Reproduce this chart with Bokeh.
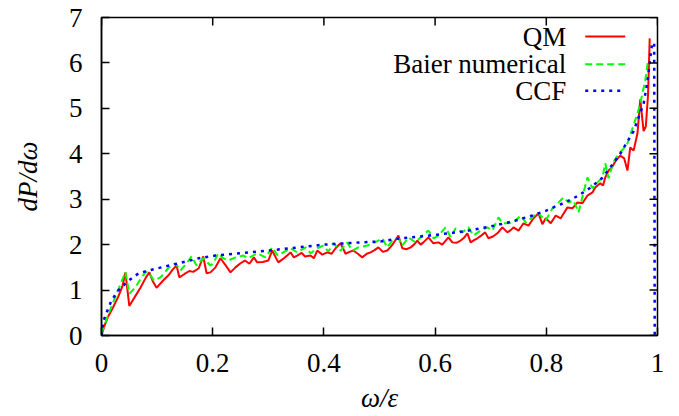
from bokeh.plotting import figure
from bokeh.models import Range1d, FixedTicker, Label
from bokeh.embed import file_html
from bokeh.resources import INLINE

# ---- data ----
qm_x = [0, 0.005, 0.012, 0.02, 0.03, 0.038, 0.043, 0.05, 0.06, 0.07, 0.08, 0.086, 0.092, 0.099,
        0.11, 0.12, 0.128, 0.135, 0.14, 0.15, 0.158, 0.165, 0.175, 0.183, 0.189, 0.196, 0.205,
        0.214, 0.223, 0.232, 0.241, 0.25, 0.258, 0.266, 0.274, 0.28, 0.29, 0.3, 0.307, 0.318,
        0.326, 0.334, 0.34, 0.346, 0.352, 0.36, 0.366, 0.376, 0.382, 0.388, 0.397, 0.406, 0.414,
        0.421, 0.43, 0.439, 0.446, 0.453, 0.461, 0.469, 0.477, 0.484, 0.491, 0.498, 0.506, 0.514,
        0.52, 0.525, 0.534, 0.541, 0.549, 0.556, 0.562, 0.568, 0.574, 0.579, 0.588, 0.597, 0.606,
        0.613, 0.619, 0.624, 0.631, 0.638, 0.646, 0.652, 0.658, 0.664, 0.67, 0.676, 0.683, 0.69,
        0.696, 0.704, 0.712, 0.721, 0.73, 0.736, 0.741, 0.75, 0.759, 0.768, 0.777, 0.786, 0.793,
        0.799, 0.808, 0.817, 0.826, 0.832, 0.838, 0.847, 0.856, 0.865, 0.874, 0.883, 0.888, 0.897,
        0.902, 0.906, 0.912, 0.918, 0.925, 0.933, 0.94, 0.946, 0.951, 0.957, 0.964, 0.969, 0.975,
        0.979, 0.983, 0.986]
qm_y = [0, 0.2, 0.42, 0.6, 0.85, 1.1, 1.39, 0.65, 0.85, 1.05, 1.28, 1.39, 1.2, 1.05,
        1.2, 1.32, 1.45, 1.54, 1.28, 1.36, 1.42, 1.4, 1.48, 1.74, 1.37, 1.39, 1.5,
        1.7, 1.55, 1.39, 1.5, 1.59, 1.65, 1.58, 1.72, 1.61, 1.62, 1.65, 1.87, 1.61,
        1.68, 1.76, 1.83, 1.72, 1.76, 1.82, 1.74, 1.76, 1.7, 1.87, 1.78, 1.83, 1.8,
        1.92, 2.03, 1.8, 1.84, 1.87, 1.8, 1.72, 1.8, 1.83, 1.88, 1.94, 1.84, 1.87,
        1.95, 2.03, 2.2, 1.92, 1.9, 1.94, 2.0, 2.09, 2.0, 2.05, 2.16, 2.03, 2.05,
        2.0, 2.09, 2.16, 2.05, 2.04, 2.09, 2.15, 2.25, 2.05, 2.1, 2.14, 2.2, 2.27,
        2.14, 2.18, 2.25, 2.38, 2.27, 2.32, 2.38, 2.31, 2.47, 2.42, 2.58, 2.69, 2.45,
        2.58, 2.47, 2.64, 2.58, 2.7, 2.82, 2.8, 2.93, 2.91, 3.08, 3.15, 3.26, 3.35,
        3.3, 3.48, 3.63, 3.7, 3.85, 3.96, 3.9, 3.63, 4.14, 4.07, 4.45, 5.2, 4.5,
        4.6, 5.3, 6.54]

baier_x = [0, 0.006, 0.013, 0.02, 0.027, 0.035, 0.043, 0.05, 0.061, 0.072, 0.08, 0.085, 0.094,
           0.106, 0.12, 0.133, 0.142, 0.153, 0.162, 0.171, 0.183, 0.196, 0.201, 0.21, 0.219,
           0.228, 0.241, 0.255, 0.264, 0.28, 0.295, 0.307, 0.317, 0.327, 0.34, 0.352, 0.367,
           0.376, 0.388, 0.399, 0.408, 0.417, 0.43, 0.442, 0.451, 0.462, 0.478, 0.489, 0.505,
           0.514, 0.523, 0.534, 0.541, 0.552, 0.565, 0.577, 0.588, 0.597, 0.606, 0.619, 0.628,
           0.637, 0.649, 0.66, 0.669, 0.682, 0.694, 0.703, 0.714, 0.721, 0.732, 0.741, 0.754,
           0.763, 0.775, 0.784, 0.793, 0.799, 0.811, 0.822, 0.831, 0.84, 0.849, 0.858, 0.867,
           0.874, 0.883, 0.892, 0.901, 0.906, 0.912, 0.92, 0.93, 0.938, 0.946, 0.955, 0.964,
           0.969, 0.978, 0.983]
baier_y = [0.05, 0.25, 0.48, 0.7, 0.92, 1.15, 1.4, 0.92, 1.06, 1.28, 1.4, 1.39, 1.21,
           1.28, 1.48, 1.59, 1.43, 1.59, 1.74, 1.54, 1.7, 1.54, 1.59, 1.81, 1.7,
           1.65, 1.72, 1.76, 1.7, 1.81, 1.72, 1.94, 1.76, 1.83, 1.92, 1.83, 1.94,
           1.81, 1.92, 1.98, 1.85, 2.03, 1.87, 2.05, 1.87, 1.94, 1.98, 2.03, 2.14,
           1.94, 2.09, 2.14, 1.98, 2.16, 2.05, 2.2, 2.31, 2.14, 2.2, 2.38, 2.16,
           2.36, 2.27, 2.38, 2.2, 2.31, 2.38, 2.31, 2.6, 2.47, 2.47, 2.49, 2.64,
           2.49, 2.6, 2.71, 2.6, 2.53, 2.8, 2.93, 3.04, 2.93, 2.97, 2.71, 3.15,
           3.48, 3.24, 3.37, 3.48, 3.79, 3.46, 3.8, 4.0, 4.1, 4.23, 4.56, 4.89,
           5.11, 5.62, 6.05]

ccf_x = [0, 0.003, 0.009, 0.018, 0.03, 0.049, 0.067, 0.085, 0.108, 0.139, 0.175, 0.205, 0.3,
         0.4, 0.466, 0.502, 0.538, 0.574, 0.604, 0.651, 0.7, 0.739, 0.775, 0.8, 0.834, 0.858,
         0.88, 0.9, 0.915, 0.933, 0.957, 0.975, 0.982, 0.987, 0.99, 0.994, 0.995]
ccf_y = [0, 0.3, 0.5, 0.77, 0.99, 1.21, 1.37, 1.43, 1.5, 1.59, 1.7, 1.76, 1.87,
         2.0, 2.05, 2.07, 2.14, 2.18, 2.22, 2.29, 2.4, 2.51, 2.64, 2.75, 2.93, 3.08,
         3.26, 3.46, 3.7, 4.0, 4.5, 5.1, 5.6, 6.1, 6.4, 6.45, 0]

xticks = [0, 0.2, 0.4, 0.6, 0.8, 1]
xtick_labels = ["0", "0.2", "0.4", "0.6", "0.8", "1"]
yticks = [0, 1, 2, 3, 4, 5, 6, 7]
ytick_labels = ["0", "1", "2", "3", "4", "5", "6", "7"]

series_names = ["QM", "Baier numerical", "CCF"]

FONT = "Liberation Serif"
FS = "27px"

FRAME_W, FRAME_H = 556, 318
X0, X1, Y0, Y1 = 0, 1, 0, 7
TICK = 8  # px, ticks drawn inward

p = figure(frame_width=FRAME_W, frame_height=FRAME_H,
           x_range=Range1d(X0, X1), y_range=Range1d(Y0, Y1),
           output_backend="svg", toolbar_location=None,
           min_border_left=101, min_border_right=22, min_border_top=17, min_border_bottom=10)
p.grid.visible = False
p.outline_line_color = "black"
p.outline_line_width = 1.5
p.background_fill_color = "white"
p.border_fill_color = "white"

# curves
p.line(qm_x, qm_y, line_color="#ff0000", line_width=2)
p.line(baier_x, baier_y, line_color="#00ff00", line_width=2, line_dash="7 4")
p.line(ccf_x, ccf_y, line_color="#0000ff", line_width=2.5, line_dash="3 5")

# axes styling
for ax, ticks, labels in ((p.xaxis[0], xticks, xtick_labels), (p.yaxis[0], yticks, ytick_labels)):
    ax.ticker = FixedTicker(ticks=ticks)
    ax.major_label_overrides = {t: s for t, s in zip(ticks, labels)}
    ax.axis_line_color = "black"
    ax.axis_line_width = 1.5
    ax.major_tick_line_color = "black"
    ax.major_tick_line_width = 1.5
    ax.major_tick_in = TICK
    ax.major_tick_out = 0
    ax.minor_tick_line_color = None
    ax.major_label_text_font = FONT
    ax.major_label_text_font_size = FS
    ax.major_label_text_color = "black"
    ax.axis_label_text_font = FONT
    ax.axis_label_text_font_size = FS
    ax.axis_label_text_font_style = "italic"
    ax.axis_label_text_color = "black"

p.xaxis[0].major_label_standoff = 18
p.yaxis[0].major_label_standoff = 19
p.xaxis[0].axis_label = "ω/ε"
p.yaxis[0].axis_label = "dP/dω"
p.xaxis[0].axis_label_standoff = 8
p.yaxis[0].axis_label_standoff = 23

# mirrored inward ticks on the top and right edges
dy = TICK * (Y1 - Y0) / FRAME_H
dx = TICK * (X1 - X0) / FRAME_W
p.segment(x0=xticks, y0=[Y1] * len(xticks), x1=xticks, y1=[Y1 - dy] * len(xticks),
          line_color="black", line_width=1.5)
p.segment(x0=[X1] * len(yticks), y0=yticks, x1=[X1 - dx] * len(yticks), y1=yticks,
          line_color="black", line_width=1.5)

# key (label left, sample right, as in the reference)
leg_colors = ["#ff0000", "#00ff00", "#0000ff"]
leg_dashes = ["solid", "7 4", "3 5"]
leg_widths = [2, 2, 2.5]
leg_y = [6.58, 5.97, 5.39]
for name, c, d, w, yy in zip(series_names, leg_colors, leg_dashes, leg_widths, leg_y):
    p.add_layout(Label(x=0.836, y=yy, text=name, text_align="right", text_baseline="middle",
                       text_font=FONT, text_font_size=FS, text_color="black"))
    p.segment(x0=[0.87], y0=[yy], x1=[0.942], y1=[yy], line_color=c, line_width=w, line_dash=d)

open("out.html", "w").write(file_html(p, INLINE))
